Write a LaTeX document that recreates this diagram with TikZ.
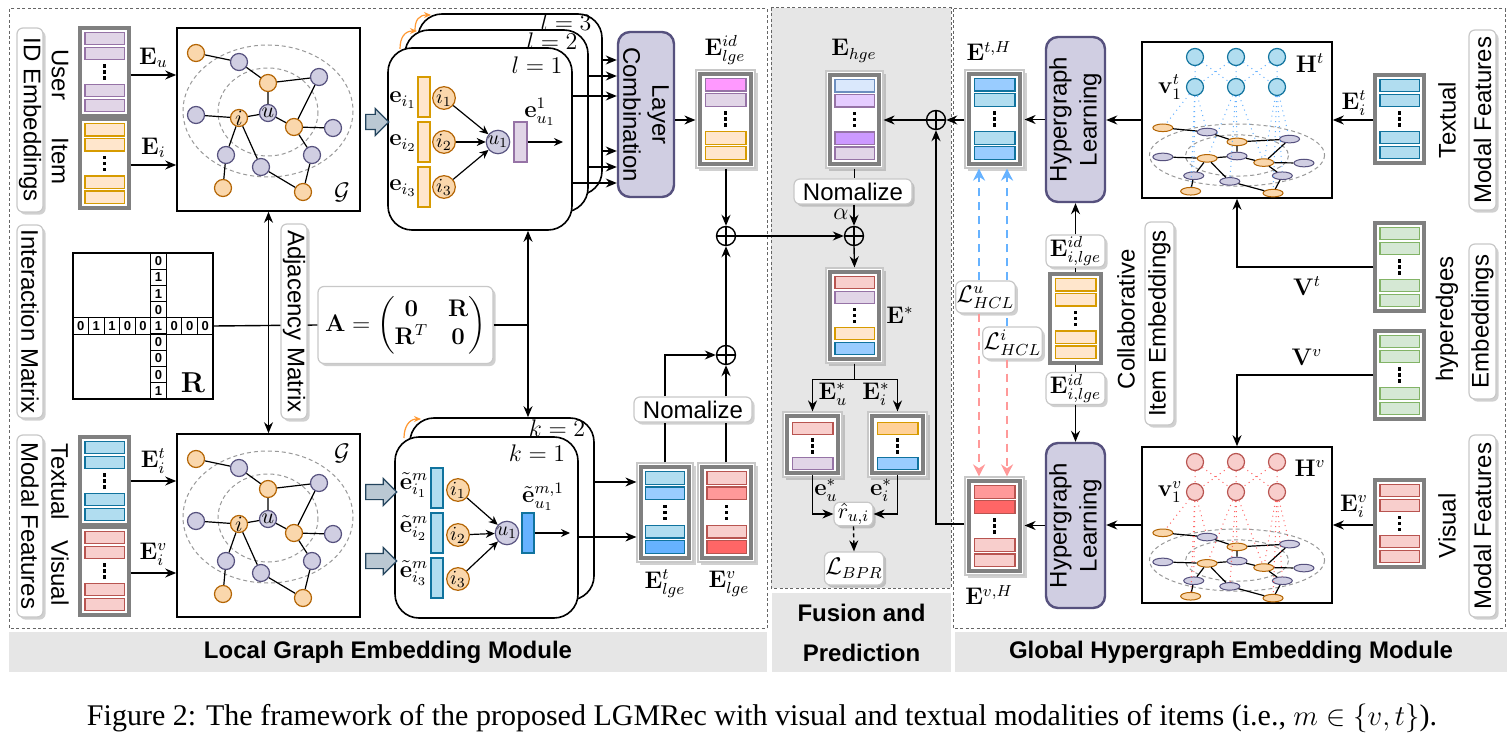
\documentclass[tikz,border=0pt]{standalone}
\usepackage[no-math]{fontspec}
\setmainfont{Liberation Sans}
\newfontfamily\capfont{Liberation Serif}
\usepackage{amsmath,amssymb,bm}
\usetikzlibrary{arrows.meta,shapes.geometric,shapes.arrows,shadows,calc}

\definecolor{purF}{HTML}{E1D5E7}\definecolor{purD}{HTML}{9673A6}
\definecolor{orF}{HTML}{FFE6CC}\definecolor{orD}{HTML}{D79B00}
\definecolor{blF}{HTML}{B1DDF0}\definecolor{blD}{HTML}{10739E}
\definecolor{rdF}{HTML}{F8CECC}\definecolor{rdD}{HTML}{B85450}
\definecolor{grF}{HTML}{D5E8D4}\definecolor{grD}{HTML}{82B366}
\definecolor{lcF}{HTML}{D0CEE2}\definecolor{lcD}{HTML}{56517E}
\definecolor{baF}{HTML}{BAC8D3}\definecolor{baD}{HTML}{23445D}
\definecolor{mgF}{HTML}{FF99FF}
\definecolor{bmF}{HTML}{99CCFF}\definecolor{bdF}{HTML}{66B2FF}
\definecolor{rmF}{HTML}{FF9999}\definecolor{rkF}{HTML}{FF6666}
\definecolor{hbF}{HTML}{DAE8FC}\definecolor{hbD}{HTML}{6C8EBF}
\definecolor{vpF}{HTML}{E5CCFF}\definecolor{vdF}{HTML}{CC99FF}
\definecolor{odF}{HTML}{FFD199}
\definecolor{ndO}{HTML}{FAD7AC}\definecolor{ndOD}{HTML}{B46504}
\definecolor{modG}{HTML}{E6E6E6}
\definecolor{frG}{HTML}{808080}
\definecolor{lbG}{HTML}{C8C8C8}
\definecolor{arO}{HTML}{FF9933}
\definecolor{dsB}{HTML}{66B2FF}
\definecolor{dsR}{HTML}{FF9999}

\tikzset{
  arr/.style={line width=0.7pt,-{Stealth[length=5.5pt,width=4.5pt]}},
  sarr/.style={line width=0.6pt,-{Stealth[length=4.5pt,width=4pt]}},
  darr/.style={line width=0.7pt,{Stealth[length=5.5pt,width=4.5pt]}-{Stealth[length=5.5pt,width=4.5pt]}},
  ln/.style={line width=0.7pt},
  modd/.style={draw=black!60,dash pattern=on 1.5pt off 1.2pt,line width=0.5pt},
  modlab/.style={fill=modG,inner sep=0pt,font=\fontsize{12}{20}\selectfont\bfseries,align=center},
  shbox/.style={draw=lbG,fill=white,line width=0.6pt,rounded corners=3pt,inner sep=0.5pt,
    drop shadow={shadow xshift=1.3pt,shadow yshift=-1.3pt,opacity=0.3,fill=black!60}},
  obox/.style={draw=lbG,fill=white,line width=0.6pt,inner sep=0pt,
    drop shadow={shadow xshift=1.3pt,shadow yshift=-1.3pt,opacity=0.3,fill=black!60}},
  sframe/.style={draw=frG,line width=1.6pt,inner sep=0pt,fill=white},
  bP/.style={fill=purF,draw=purD,line width=0.6pt},
  bO/.style={fill=orF,draw=orD,line width=0.6pt},
  bOd/.style={fill=odF,draw=orD,line width=0.6pt},
  bB/.style={fill=blF,draw=blD,line width=0.6pt},
  bBm/.style={fill=bmF,draw=blD,line width=0.6pt},
  bBd/.style={fill=bdF,draw=blD,line width=0.6pt},
  bR/.style={fill=rdF,draw=rdD,line width=0.6pt},
  bRm/.style={fill=rmF,draw=rdD,line width=0.6pt},
  bRk/.style={fill=rkF,draw=rdD,line width=0.6pt},
  bG/.style={fill=grF,draw=grD,line width=0.6pt},
  bM/.style={fill=mgF,draw=purD,line width=0.6pt},
  bHb/.style={fill=hbF,draw=hbD,line width=0.6pt},
  bVp/.style={fill=vpF,draw=purD,line width=0.6pt},
  bVd/.style={fill=vdF,draw=purD,line width=0.6pt},
  gbox/.style={draw,line width=0.8pt,fill=white,inner sep=0pt},
  lbox/.style={draw,line width=0.8pt,fill=white,rounded corners=12pt,inner sep=0pt},
  purplebox/.style={draw=lcD,fill=lcF,line width=1.2pt,rounded corners=6pt,inner sep=0pt},
  gO/.style={circle,fill=ndO,draw=ndOD,line width=0.6pt,minimum size=8.5pt,inner sep=0pt,font=\fontsize{11}{11}\selectfont},
  gP/.style={circle,fill=lcF,draw=lcD,line width=0.6pt,minimum size=8.5pt,inner sep=0pt,font=\fontsize{11}{11}\selectfont},
  hO/.style={ellipse,fill=ndO,draw=ndOD,line width=0.5pt,minimum width=10pt,minimum height=3.8pt,inner sep=0pt},
  hP/.style={ellipse,fill=lcF,draw=lcD,line width=0.5pt,minimum width=10pt,minimum height=3.8pt,inner sep=0pt},
  hB/.style={circle,fill=blF,draw=blD,line width=0.6pt,minimum size=8.5pt,inner sep=0pt},
  hR/.style={circle,fill=rdF,draw=rdD,line width=0.6pt,minimum size=8.5pt,inner sep=0pt},
  gedge/.style={line width=0.6pt},
  gdash/.style={draw=black!40,dash pattern=on 2pt off 1.5pt,line width=0.5pt},
  sc/.style={circle,draw=ndOD,fill=ndO,line width=0.6pt,minimum size=10pt,inner sep=0pt,font=\fontsize{10}{10}\selectfont},
  scu/.style={circle,draw=lcD,fill=lcF,line width=0.6pt,minimum size=10pt,inner sep=0pt,font=\fontsize{10}{10}\selectfont},
  oplus/.style={circle,draw,line width=0.7pt,minimum size=9.5pt,inner sep=0pt,
    path picture={\draw[line width=0.7pt] (path picture bounding box.north) -- (path picture bounding box.south)
      (path picture bounding box.west) -- (path picture bounding box.east);}},
  barrow/.style={single arrow,draw=baD,fill=baF,line width=0.6pt,inner sep=3.5pt,single arrow head extend=3pt},
  hdotB/.style={draw=dsB,dotted,line width=0.5pt},
  hdotR/.style={draw=rkF,dotted,line width=0.5pt},
  dashB/.style={draw=dsB,line width=1pt,dash pattern=on 4pt off 3pt},
  dashR/.style={draw=dsR,line width=1pt,dash pattern=on 4pt off 3pt},
  dtip/.style={-{Stealth[length=6pt,width=6pt]}},
  oarr/.style={draw=arO,line width=0.6pt,-{Stealth[length=3.5pt,width=3pt]}},
  cell/.style={draw,fill=white,line width=0.6pt,inner sep=0pt,minimum width=7.78pt,minimum height=8.11pt,font=\fontsize{6.5}{6.5}\selectfont\bfseries},
}

\newcommand{\stackbars}[8]{%
 \path[#5] ({#1+0.1*(#3-#1)},{#2+0.05*(#4-#2)}) rectangle ({#1+0.9*(#3-#1)},{#2+0.19*(#4-#2)});
 \path[#6] ({#1+0.1*(#3-#1)},{#2+0.22*(#4-#2)}) rectangle ({#1+0.9*(#3-#1)},{#2+0.36*(#4-#2)});
 \path[#7] ({#1+0.1*(#3-#1)},{#2+0.64*(#4-#2)}) rectangle ({#1+0.9*(#3-#1)},{#2+0.78*(#4-#2)});
 \path[#8] ({#1+0.1*(#3-#1)},{#2+0.81*(#4-#2)}) rectangle ({#1+0.9*(#3-#1)},{#2+0.95*(#4-#2)});
 \foreach \dd in {-6,0,6} {\fill ({(#1+#3)/2-1.8},{(#2+#4)/2+\dd-1.8}) rectangle ++(3.6,3.6);}
}
\newcommand{\lstack}[9]{%
 \node[sframe,minimum width={(#4-#2)*0.5pt},minimum height={(#5-#3)*0.5pt}] (#1) at ({(#2+#4)/2},{(#3+#5)/2}) {};
 \stackbars{#2}{#3}{#4}{#5}{#6}{#7}{#8}{#9}
}
\newcommand{\ostack}[9]{%
 \node[obox,minimum width={(#4-#2)*0.5pt},minimum height={(#5-#3)*0.5pt}] (#1) at ({(#2+#4)/2},{(#3+#5)/2}) {};
 \node[sframe,minimum width={(#4-#2-8)*0.5pt},minimum height={(#5-#3-8)*0.5pt}] (#1f) at ({(#2+#4)/2},{(#3+#5)/2}) {};
 \stackbars{(#2+4)}{(#3+4)}{(#4-4)}{(#5-4)}{#6}{#7}{#8}{#9}
}
\newcommand{\tstack}[7]{%
 \node[obox,minimum width={(#4-#2)*0.5pt},minimum height={(#5-#3)*0.5pt}] (#1) at ({(#2+#4)/2},{(#3+#5)/2}) {};
 \node[sframe,minimum width={(#4-#2-8)*0.5pt},minimum height={(#5-#3-8)*0.5pt}] (#1f) at ({(#2+#4)/2},{(#3+#5)/2}) {};
 \path[#6] ({#2+4+0.1*(#4-#2-8)},{#3+4+0.11*(#5-#3-8)}) rectangle ({#2+4+0.9*(#4-#2-8)},{#3+4+0.32*(#5-#3-8)});
 \path[#7] ({#2+4+0.1*(#4-#2-8)},{#3+4+0.73*(#5-#3-8)}) rectangle ({#2+4+0.9*(#4-#2-8)},{#3+4+0.94*(#5-#3-8)});
 \foreach \dd in {-6,0,6} {\fill ({(#2+#4)/2-1.8},{#3+4+0.53*(#5-#3-8)+\dd-1.8}) rectangle ++(3.6,3.6);}
}
\newcommand{\vlabel}[7]{%
 \node[shbox,minimum width={(#4-#2)*0.5pt},minimum height={(#5-#3)*0.5pt}] (#1) at ({(#2+#4)/2},{(#3+#5)/2}) {};
 \node[rotate=#6,inner sep=0pt] (#1t) at (#1) {#7};
}
\newcommand{\gnet}[5]{%
 \draw[gdash] (0,-2) ellipse [x radius=85,y radius=66];
 \draw[gdash] (0,-1) ellipse [x radius=50,y radius=44];
 \node[#2] (#1a) at (-72,-60) {};
 \node[#3] (#1b) at (-29,-51) {};
 \node[#2] (#1c) at (0,-30) {};
 \node[#3] (#1d) at (51,-36) {};
 \node[#3] (#1e) at (-72,2) {};
 \node[#2] (#1i) at (-29,5) {#4};
 \node[#3] (#1u) at (0,0) {#5};
 \node[#2] (#1f) at (26,14) {};
 \node[#3] (#1g) at (65,15) {};
 \node[#3] (#1h) at (-42,42) {};
 \node[#3] (#1j) at (-7,54) {};
 \node[#3] (#1k) at (44,42) {};
 \node[#2] (#1l) at (-45,75) {};
 \node[#2] (#1m) at (35,79) {};
 \draw[gedge] (#1a)--(#1b) (#1b)--(#1c) (#1c)--(#1d) (#1c)--(#1u) (#1e)--(#1i) (#1i)--(#1u)
   (#1u)--(#1f) (#1f)--(#1g) (#1f)--(#1d) (#1f)--(#1k) (#1i)--(#1h) (#1i)--(#1j)
   (#1h)--(#1l) (#1j)--(#1m) (#1k)--(#1m);
}

\begin{document}
\begin{tikzpicture}[x=0.5pt,y=-0.5pt,font=\fontsize{12}{14}\selectfont]
\useasboundingbox (0,0) rectangle (1510,754);
\fill[white] (0,0) rectangle (1510,754);

% ---------- module frames and titles
\path[modd,fill=modG] (771,8) rectangle (951,588);
\draw[modd] (9,9) rectangle (767,628);
\draw[modd] (953,9) rectangle (1505,628);
\node[modlab,minimum width=379pt,minimum height=20pt] (labL) at (388,652) {Local Graph Embedding Module};
\node[modlab,minimum width=89.5pt,minimum height=39.5pt] (labF) at (861.5,632.5) {Fusion and\\Prediction};
\node[modlab,minimum width=276pt,minimum height=20pt] (labG) at (1231,652) {Global Hypergraph Embedding Module};

% ---------- left column
\vlabel{idlab}{17}{28}{43}{212}{-90}{ID Embeddings}
\vlabel{intlab}{17}{225}{43}{418}{-90}{Interaction Matrix}
\vlabel{mflab}{17}{435}{43}{617}{-90}{Modal Features}
\node[rotate=-90] (tUser) at (60,75) {User};
\node[rotate=-90] (tItem) at (60,161) {Item};
\node[rotate=-90] (tTex) at (60,482) {Textual};
\node[rotate=-90] (tVis) at (60,573) {Visual};

\lstack{ustk}{80}{28}{129}{116}{bP}{bP}{bP}{bP}
\lstack{istk}{80}{119}{129}{208}{bO}{bO}{bO}{bO}
\lstack{tstk}{80}{437}{129}{525}{bB}{bB}{bB}{bB}
\lstack{vstk}{80}{527}{129}{615}{bR}{bR}{bR}{bR}

% graphs
\node[gbox,minimum width=91.5pt,minimum height=91.5pt] (G1) at (268.5,119.5) {};
\node[gbox,minimum width=91.5pt,minimum height=91.5pt] (G2) at (268.5,525.5) {};
\begin{scope}[shift={(268,113)}]\gnet{ga}{gO}{gP}{$i$}{$u$}\end{scope}
\begin{scope}[shift={(268,519)}]\gnet{gb}{gO}{gP}{$i$}{$u$}\end{scope}
\node (G1lab) at (342,192) {$\mathcal{G}$};
\node (G2lab) at (342,453) {$\mathcal{G}$};

\draw[arr] (ustk.east |- 0,75) -- (G1.west |- 0,75) node[midway,above=0pt] (lEu) {$\mathbf{E}_u$};
\draw[arr] (istk.east |- 0,165) -- (G1.west |- 0,165) node[midway,above=0pt] (lEi) {$\mathbf{E}_i$};
\draw[arr] (tstk.east |- 0,481) -- (G2.west |- 0,481) node[midway,above=0pt] (lEit) {$\mathbf{E}_i^t$};
\draw[arr] (vstk.east |- 0,573) -- (G2.west |- 0,573) node[midway,above=0pt] (lEiv) {$\mathbf{E}_i^v$};

% interaction matrix
\node[draw,line width=0.8pt,minimum width=70pt,minimum height=73pt,inner sep=0pt] (Rmat) at (143,326) {};
\foreach \v [count=\i from 0] in {0,1,1,0,0,1,0,0,0}
  {\node[cell] (rr\i) at ({73+(\i+0.5)*15.556},326) {\v};}
\foreach \v [count=\j from 0] in {0,1,1,0,1,0,0,0,1}
  {\ifnum\j=4\relax\else\node[cell] (rc\j) at (158.6,{253+(\j+0.5)*16.22}) {\v};\fi}
\node[font=\fontsize{14}{14}\selectfont] (Rlab) at (193,383) {$\mathbf{R}$};

\node[shbox,minimum width=87.5pt,minimum height=38.5pt] (Abox) at (405.5,325)
  {$\mathbf{A}=\begin{pmatrix}\mathbf{0} & \mathbf{R}\\ \mathbf{R}^{T} & \mathbf{0}\end{pmatrix}$};
\draw[ln] (Rmat.east) -- (Abox.west);
\draw[darr] (G1.south) -- (G2.north);
\vlabel{adjlab}{281}{224}{307}{419}{-90}{Adjacency Matrix}

% ---------- layer boxes (ID)
\node[lbox,minimum width=92pt,minimum height=90.5pt] (l3) at (510,104.5) {};
\node (l3t) at (566,22) {$l=3$};
\node[lbox,minimum width=91.5pt,minimum height=91pt] (l2) at (496.5,121) {};
\node (l2t) at (552,41) {$l=2$};
\node[lbox,minimum width=92pt,minimum height=91pt] (l1) at (480,139) {};
\node (l1t) at (537,65) {$l=1$};
\draw[oarr] (400,49) .. controls (400,37) and (405,31) .. (417,31);
\draw[oarr] (415,30) .. controls (415,20) and (419,15) .. (431,15);

\node (le1) at (403,100) {$\mathbf{e}_{i_1}$};
\node (le2) at (403,143) {$\mathbf{e}_{i_2}$};
\node (le3) at (403,188) {$\mathbf{e}_{i_3}$};
\path[bO] (418,77) rectangle (430,117);
\path[bO] (418,122) rectangle (430,162);
\path[bO] (418,167) rectangle (430,207);
\node[sc] (ci1) at (444,98) {$i_1$};
\node[sc] (ci2) at (444,142) {$i_2$};
\node[sc] (ci3) at (444,187) {$i_3$};
\node[scu] (cu1) at (498,142) {$u_1$};
\node[bP,minimum width=6.5pt,minimum height=20pt,inner sep=0pt] (ub1) at (520.5,142) {};
\coordinate (ue1) at (563,142);
\draw[sarr] (ci1) -- (cu1);
\draw[sarr] (ci2) -- (cu1);
\draw[sarr] (ci3) -- (cu1);
\draw[sarr] (ub1.east) -- (ue1);
\node (lu1) at (540,112) {$\mathbf{e}_{u_1}^{1}$};

\node[barrow,minimum height=11.5pt] (ba1) at (373.5,122) {};

% layer combination
\node[purplebox,minimum width=28pt,minimum height=82.5pt] (lc) at (646,114.5) {};
\node[rotate=-90,align=center,font=\fontsize{12}{14.5}\selectfont] (lct) at (lc) {Layer\\Combination};
\draw[arr] (l3.east |- 0,60) -- (lc.west |- 0,60);
\draw[arr] (l2.east |- 0,76) -- (lc.west |- 0,76);
\draw[arr] (l1.east |- 0,96) -- (lc.west |- 0,96);
\draw[arr] (l3.east |- 0,151) -- (lc.west |- 0,151);
\draw[arr] (l2.east |- 0,167) -- (lc.west |- 0,167);
\draw[arr] (l1.east |- 0,183) -- (lc.west |- 0,183);

\ostack{eid}{696}{70}{755}{168}{bM}{bP}{bO}{bO}
\node (eidl) at (725,50) {$\mathbf{E}^{id}_{lge}$};
\draw[arr] (lc.east |- 0,120) -- (eid.west |- 0,120);

% ---------- modal layers
\node[lbox,minimum width=92pt,minimum height=91pt] (k2) at (502,509) {};
\node (k2t) at (557,428) {$k=2$};
\node[lbox,minimum width=91.5pt,minimum height=90.5pt] (k1) at (486.5,527.5) {};
\node (k1t) at (537,453) {$k=1$};
\draw[oarr] (404,438) .. controls (404,427) and (409,419) .. (421,419);

\node (me1) at (414,485) {$\tilde{\mathbf{e}}^{m}_{i_1}$};
\node (me2) at (414,528) {$\tilde{\mathbf{e}}^{m}_{i_2}$};
\node (me3) at (414,573) {$\tilde{\mathbf{e}}^{m}_{i_3}$};
\path[bB] (431,468) rectangle (443,508);
\path[bB] (431,513) rectangle (443,553);
\path[bB] (431,558) rectangle (443,598);
\node[sc] (mi1) at (458,490) {$i_1$};
\node[sc] (mi2) at (458,535) {$i_2$};
\node[sc] (mi3) at (458,579) {$i_3$};
\node[scu] (mu1) at (507,533) {$u_1$};
\node[bBd,minimum width=6pt,minimum height=20pt,inner sep=0pt] (ub2) at (528,533) {};
\coordinate (ue2) at (570,533);
\draw[sarr] (mi1) -- (mu1);
\draw[sarr] (mi2) -- (mu1);
\draw[sarr] (mi3) -- (mu1);
\draw[sarr] (ub2.east) -- (ue2);
\node (mlu1) at (543,497) {$\tilde{\mathbf{e}}_{u_1}^{m,1}$};

\node[barrow,minimum height=15.5pt] (ba2) at (377.5,492) {};
\node[barrow,minimum height=15.5pt] (ba3) at (377.5,561) {};

% adjacency to layers
\draw[ln] (Abox.east) -- (528,0 |- Abox.east);
\draw[darr] (528,0 |- l1.south) -- (528,0 |- k2.north);

% modal outputs
\ostack{Etl}{637}{463}{693}{562}{bB}{bBm}{bB}{bBd}
\ostack{Evl}{698}{463}{755}{562}{bR}{bRm}{bR}{bRk}
\node (Etll) at (665,584) {$\mathbf{E}^{t}_{lge}$};
\node (Evll) at (729,584) {$\mathbf{E}^{v}_{lge}$};
\draw[arr] (k2.east |- 0,482) -- (Etl.west |- 0,482);
\draw[arr] (k1.east |- 0,537) -- (Etl.west |- 0,537);

\node[shbox,minimum width=59pt,minimum height=12.5pt] (N1) at (693,409.5) {Nomalize};
\node[oplus] (p1) at (726,236) {};
\node[oplus] (p2) at (726,355) {};
\draw[ln] (Etl.north) -- (Etl.north |- N1.south);
\draw[ln] (Evl.north -| p2.south) -- (p2.south |- N1.south);
\draw[arr] (N1.north -| Etl.north) |- (p2.west);
\draw[arr] (N1.north -| p2.south) -- (p2.south);
\draw[arr] (p2.north) -- (p1.south);
\draw[arr] (p1.north |- eid.south) -- (p1.north);

% ---------- fusion
\ostack{Ehge}{826}{71}{883}{168}{bHb}{bVp}{bVd}{bP}
\node (Ehgel) at (854,51) {$\mathbf{E}_{hge}$};
\node[oplus] (p4) at (936,120) {};
\draw[arr] (p4.west) -- (Ehge.east |- p4.west);
\node[shbox,minimum width=59pt,minimum height=12.5pt] (N2) at (853,191.5) {Nomalize};
\draw[ln] (Ehge.south) -- (Ehge.south |- N2.north);
\node[oplus] (p3) at (854,236) {};
\draw[arr] (p3.north |- N2.south) -- (p3.north);
\node (alph) at (841,214) {$\alpha$};
\draw[arr] (p1.east) -- (p3.west);
\ostack{Estar}{826}{268}{883}{363}{bR}{bP}{bO}{bBm}
\draw[arr] (p3.south) -- (Estar.north);
\node (Estl) at (900,315) {$\mathbf{E}^{*}$};
\tstack{Eus}{783}{412}{842}{477}{bR}{bP}
\tstack{Eis}{868}{412}{927}{477}{bOd}{bBm}
\draw[arr] (Estar.south) -- ++(0,16) -| (Eus.north);
\draw[arr] (Estar.south) -- ++(0,16) -| (Eis.north);
\node (Eusl) at (833,394) {$\mathbf{E}^{*}_{u}$};
\node (Eisl) at (876,394) {$\mathbf{E}^{*}_{i}$};
\node[shbox,minimum width=19.5pt,minimum height=11pt,font=\fontsize{11}{11}\selectfont] (rhat) at (853.5,514) {$\hat{r}_{u,i}$};
\draw[arr] (Eusf.south) |- (rhat.west);
\draw[arr] (Eisf.south) |- (rhat.east);
\node (eusl) at (826,490) {$\mathbf{e}^{*}_{u}$};
\node (eisl) at (881,490) {$\mathbf{e}^{*}_{i}$};
\node[shbox,minimum width=29pt,minimum height=16.5pt] (lbpr) at (854,568.5) {$\mathcal{L}_{BPR}$};
\draw[arr,dash pattern=on 2pt off 1.5pt] (rhat.south) -- (lbpr.north);

% ---------- global
\ostack{EtH}{965}{70}{1024}{168}{bBm}{bB}{bB}{bBm}
\node (EtHl) at (989,51) {$\mathbf{E}^{t,H}$};
\draw[arr] (EtH.west |- p4.east) -- (p4.east);
\node[purplebox,minimum width=29.5pt,minimum height=82.5pt] (HL1) at (1075.5,119.5) {};
\node[rotate=90,align=center,font=\fontsize{12}{15}\selectfont] (HL1t) at (HL1) {Hypergraph\\Learning};
\draw[arr] (HL1.west) -- (EtH.east |- HL1.west);
\node[gbox,minimum width=95pt,minimum height=78pt] (Ht) at (1237,120) {};
\draw[arr] (Ht.west) -- (HL1.east |- Ht.west);
\lstack{Tst2}{1375}{75}{1424}{163}{bB}{bB}{bB}{bB}
\draw[arr] (Tst2.west |- Ht.east) -- (Ht.east);
\node (lEit2) at (1354,103) {$\mathbf{E}_i^t$};
\node[rotate=90] (tTex2) at (1447,120) {Textual};
\vlabel{mf2}{1469}{30}{1496}{210}{90}{Modal Features}

\begin{scope}[shift={(1237,156)},xscale=1.03,yscale=0.47]\gnet{ht}{hO}{hP}{}{}\end{scope}
\foreach \n/\x in {a/1195,b/1236,c/1277}
  {\node[hB] (hte1\n) at (\x,57) {}; \node[hB] (hte2\n) at (\x,87) {};}
\draw[hdotB] (hte1a)--(hte2a) (hte1a)--(hte2b) (hte1b)--(hte2a) (hte1b)--(hte2b) (hte1b)--(hte2c)
  (hte1c)--(hte2b) (hte1c)--(hte2c);
\draw[hdotB] (hte2a)--(hta) (hte2a)--(htb) (hte2a)--(hth) (hte2a)--(htl)
  (hte2b)--(htc) (hte2b)--(hti) (hte2b)--(htj) (hte2b)--(htf)
  (hte2c)--(htd) (hte2c)--(htf) (hte2c)--(htk) (hte2c)--(htm);
\node (v1t) at (1170,87) {$\mathbf{v}_1^t$};
\node (Htl) at (1310,63) {$\mathbf{H}^t$};

\lstack{Gs1}{1375}{223}{1424}{311}{bG}{bG}{bG}{bG}
\lstack{Gs2}{1375}{331}{1424}{419}{bG}{bG}{bG}{bG}
\node[rotate=90] (thyp) at (1447,319) {hyperedges};
\vlabel{emb2}{1469}{244}{1496}{399}{90}{Embeddings}

\ostack{EvH}{965}{477}{1024}{575}{bRm}{bRk}{bR}{bR}
\node (EvHl) at (989,595) {$\mathbf{E}^{v,H}$};
\node[purplebox,minimum width=29.5pt,minimum height=82.5pt] (HL2) at (1075.5,525.5) {};
\node[rotate=90,align=center,font=\fontsize{12}{15}\selectfont] (HL2t) at (HL2) {Hypergraph\\Learning};
\node[gbox,minimum width=95pt,minimum height=78pt] (Hv) at (1237,525) {};
\lstack{Vst2}{1375}{480}{1424}{567}{bR}{bR}{bR}{bR}
\draw[arr] (Vst2.west |- Hv.east) -- (Hv.east);
\node (lEiv2) at (1354,506) {$\mathbf{E}_i^v$};
\draw[arr] (Hv.west) -- (HL2.east |- Hv.west);
\draw[arr] (HL2.west) -- (EvH.east |- HL2.west);
\draw[arr] (EvH.west |- 0,524) -| (p4.south);
\node[rotate=90] (tVis2) at (1447,526) {Visual};
\vlabel{mf3}{1469}{435}{1496}{617}{90}{Modal Features}

\begin{scope}[shift={(1237,561)},xscale=1.03,yscale=0.47]\gnet{hv}{hO}{hP}{}{}\end{scope}
\foreach \n/\x in {a/1195,b/1236,c/1277}
  {\node[hR] (hve1\n) at (\x,462) {}; \node[hR] (hve2\n) at (\x,492) {};}
\draw[hdotR] (hve1a)--(hve2a) (hve1a)--(hve2b) (hve1b)--(hve2a) (hve1b)--(hve2b) (hve1b)--(hve2c)
  (hve1c)--(hve2b) (hve1c)--(hve2c);
\draw[hdotR] (hve2a)--(hva) (hve2a)--(hvb) (hve2a)--(hvh) (hve2a)--(hvl)
  (hve2b)--(hvc) (hve2b)--(hvi) (hve2b)--(hvj) (hve2b)--(hvf)
  (hve2c)--(hvd) (hve2c)--(hvf) (hve2c)--(hvk) (hve2c)--(hvm);
\node (v1v) at (1170,492) {$\mathbf{v}_1^v$};
\node (Hvl) at (1310,468) {$\mathbf{H}^v$};

\draw[arr] (Gs1.west) -| (Ht.south);
\draw[arr] (Gs2.west) -| (Hv.north);
\node (Vtl) at (1307,286) {$\mathbf{V}^t$};
\node (Vvl) at (1307,357) {$\mathbf{V}^v$};

% collaborative item embeddings
\node[shbox,minimum width=29.5pt,minimum height=16pt] (EidT) at (1075.5,251) {$\mathbf{E}^{id}_{i,lge}$};
\lstack{Cst}{1050}{274}{1101}{363}{bO}{bO}{bO}{bO}
\node[shbox,minimum width=29.5pt,minimum height=16pt] (EidB) at (1075.5,388.5) {$\mathbf{E}^{id}_{i,lge}$};
\draw[arr] (EidT.north) -- (HL1.south);
\draw[ln] (Cst.north) -- (EidT.south);
\draw[ln] (Cst.south) -- (EidB.north);
\draw[arr] (EidB.south) -- (HL2.north);
\node[rotate=90] (tcol) at (1126,319) {Collaborative};
\vlabel{iemb}{1145}{222}{1174}{425}{90}{Item Embeddings}

% contrastive losses
\node[shbox,minimum width=29.5pt,minimum height=16pt] (Lu) at (985.5,297) {$\mathcal{L}^{u}_{HCL}$};
\node[shbox,minimum width=29.5pt,minimum height=16pt] (Li) at (1012.5,343) {$\mathcal{L}^{i}_{HCL}$};
\draw[dashB,dtip] (979,0 |- Lu.north) -- (979,0 |- EtH.south);
\draw[dashB] (1007,0 |- Li.north) -- (1007,0 |- Lu.south);
\draw[dashB,dtip] (1007,0 |- Lu.north) -- (1007,0 |- EtH.south);
\draw[dashR,dtip] (979,0 |- Lu.south) -- (979,0 |- EvH.north);
\draw[dashR,dtip] (1007,0 |- Li.south) -- (1007,0 |- EvH.north);

% ---------- caption
\node[font=\capfont\fontsize{15}{17}\selectfont] (cap) at (762,718)
  {Figure 2: The framework of the proposed LGMRec with visual and textual modalities of items (i.e., $m\in\{v,t\}$).};
\end{tikzpicture}
\end{document}
